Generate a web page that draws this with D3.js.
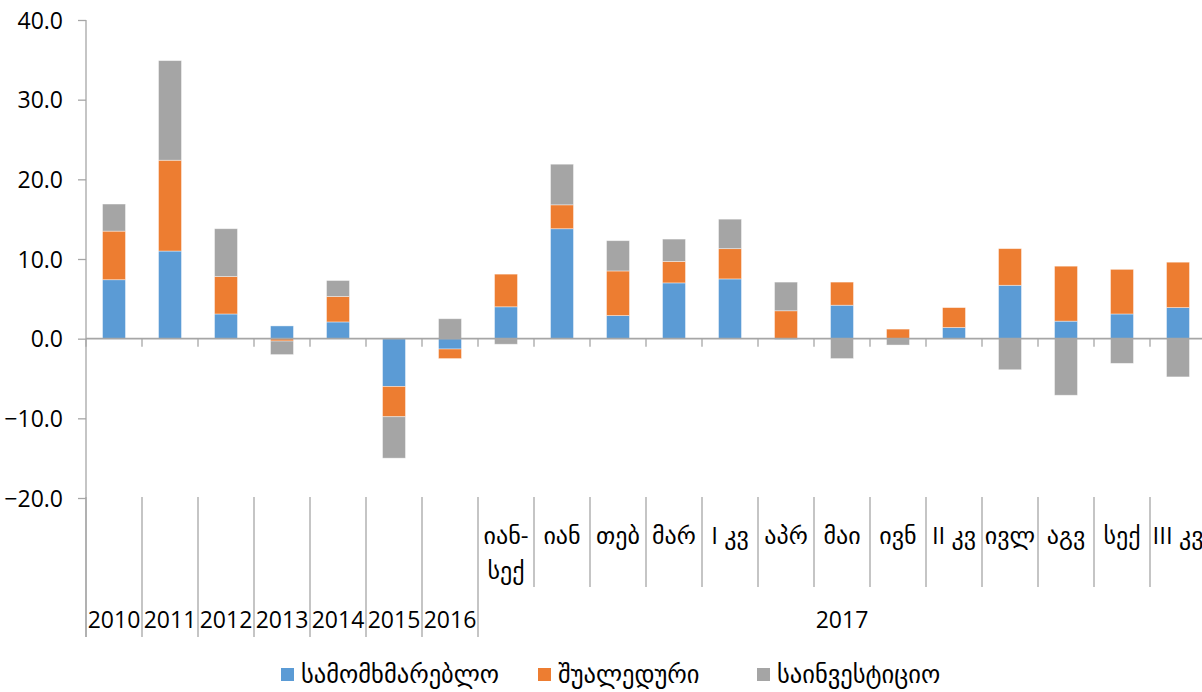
<!DOCTYPE html>
<html><head><meta charset="utf-8">
<script src="https://cdn.jsdelivr.net/npm/d3@7"></script>
<style>
body{margin:0;background:#fff;}
svg text{font-family:"Open Sans","DejaVu Sans",sans-serif;fill:#000;}
</style></head>
<body>
<svg id="c" width="1202" height="692"></svg>
<script>
const categories = ["2010","2011","2012","2013","2014","2015","2016","იან-სექ","იან","თებ","მარ","I კვ","აპრ","მაი","ივნ","II კვ","ივლ","აგვ","სექ","III კვ"];
const groupLabels = ["2010","2011","2012","2013","2014","2015","2016","2017"];
const groupSpans = [1,1,1,1,1,1,1,13];
const seriesNames = ["სამომხმარებლო","შუალედური","საინვესტიციო"];
const consumer     = [7.4, 11.0, 3.1, 1.6, 2.1, -6.0, -1.3, 4.0, 13.8, 2.9, 7.0, 7.5, -0.1, 4.2, 0.0, 1.4, 6.7, 2.2, 3.1, 3.9];
const intermediate = [6.1, 11.4, 4.7, -0.3, 3.2, -3.8, -1.2, 4.1, 3.0, 5.6, 2.7, 3.8, 3.5, 2.9, 1.2, 2.5, 4.6, 6.9, 5.6, 5.7];
const investment   = [3.4, 12.5, 6.0, -1.7, 2.0, -5.2, 2.5, -0.7, 5.1, 3.8, 2.8, 3.7, 3.6, -2.5, -0.8, 0.0, -3.9, -7.1, -3.1, -4.8];
const yTicks = [-20,-10,0,10,20,30,40];
const colors = ["#5B9BD5","#ED7D31","#A5A5A5"];

(function(){
const svg = d3.select("#c");
const mLeft = 86, mTop = 20, mBottom = 498;
const step = 56;
const x = d3.scaleBand().domain(categories).range([mLeft, mLeft + step*categories.length]).paddingInner(0.59).paddingOuter(0.295);
const y = d3.scaleLinear().domain([-20,40]).range([mBottom, mTop]);
const axisColor = "#A6A6A6";

const table = categories.map((c,i)=>({cat:c, s0:consumer[i], s1:intermediate[i], s2:investment[i]}));
const stack = d3.stack().keys(["s0","s1","s2"]).offset(d3.stackOffsetDiverging);
const layers = stack(table);

// bars
svg.append("g").selectAll("g").data(layers).join("g")
  .attr("fill",(d,i)=>colors[i])
  .selectAll("rect").data(d=>d).join("rect")
  .attr("x",d=>x(d.data.cat))
  .attr("width",x.bandwidth())
  .attr("y",d=>y(Math.max(d[0],d[1])))
  .attr("height",d=>Math.abs(y(d[0])-y(d[1])))
  .attr("stroke","#ffffff").attr("stroke-opacity",0.5).attr("stroke-width",0.8);

// y axis
const yAxis = d3.axisLeft(y).tickValues(yTicks).tickSize(8).tickFormat(d3.format(".1f"));
const ya = svg.append("g").attr("transform",`translate(${mLeft},0)`).call(yAxis);
ya.select(".domain").remove();
ya.selectAll(".tick line").attr("stroke",axisColor).attr("stroke-width",1.3);
ya.selectAll(".tick text").attr("x",-23).attr("font-size",23).attr("dy","0.35em").style("font-family","'Open Sans','DejaVu Sans',sans-serif").attr("fill","#000");
svg.append("line").attr("x1",mLeft).attr("x2",mLeft).attr("y1",mTop).attr("y2",637).attr("stroke",axisColor).attr("stroke-width",1.3);

// zero axis with category ticks
const y0 = y(0);
svg.append("line").attr("x1",mLeft).attr("x2",mLeft+step*categories.length).attr("y1",y0).attr("y2",y0).attr("stroke",axisColor).attr("stroke-width",1.6);
const bounds = d3.range(categories.length+1).map(i=>mLeft + i*step);
svg.append("g").selectAll("line").data(bounds).join("line")
  .attr("x1",d=>d).attr("x2",d=>d).attr("y1",y0).attr("y2",y0+8)
  .attr("stroke",axisColor).attr("stroke-width",1.3);

// separators in label area
let gStart = 0; const groupBounds = [0];
groupSpans.forEach(s=>{gStart+=s; groupBounds.push(gStart);});
svg.append("g").selectAll("line").data(d3.range(categories.length+1)).join("line")
  .attr("x1",i=>mLeft+i*step).attr("x2",i=>mLeft+i*step)
  .attr("y1",497).attr("y2",i=>groupBounds.includes(i)?637:587)
  .attr("stroke",axisColor).attr("stroke-width",1.3);

// month labels for group 2017
const monthIdx = d3.range(7, categories.length);
const ml = svg.append("g").selectAll("text").data(monthIdx).join("text")
  .attr("x",i=>mLeft+i*step+step/2).attr("y",544)
  .attr("text-anchor","middle").attr("font-size",24);
ml.each(function(i){
  const t = d3.select(this);
  const lab = categories[i];
  if (lab.includes("-")) {
    const parts = lab.split("-");
    t.append("tspan").attr("x",mLeft+i*step+step/2).text(parts[0]+"-");
    t.append("tspan").attr("x",mLeft+i*step+step/2).attr("dy",35).text(parts[1]);
  } else t.text(lab);
});

// group labels
svg.append("g").selectAll("text").data(groupLabels).join("text")
  .attr("x",(d,i)=>mLeft + (groupBounds[i]+groupBounds[i+1])/2*step)
  .attr("y",628).attr("text-anchor","middle").attr("font-size",23)
  .text(d=>d);

// legend
const legX = [281, 538, 757];
const lg = svg.append("g").selectAll("g").data(seriesNames).join("g")
  .attr("transform",(d,i)=>`translate(${legX[i]},668)`);
lg.append("rect").attr("width",13).attr("height",13).attr("fill",(d,i)=>colors[i]);
lg.append("text").attr("x",20).attr("y",15).attr("font-size",24.5).text(d=>d);
})();
</script>
</body></html>
